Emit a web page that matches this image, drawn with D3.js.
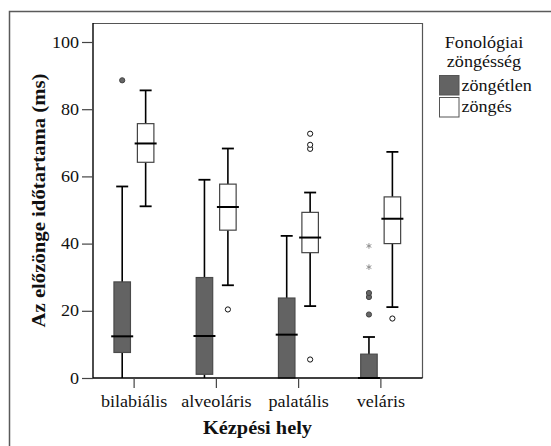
<!DOCTYPE html>
<html>
<head>
<meta charset="utf-8">
<script src="https://cdn.jsdelivr.net/npm/d3@7"></script>
<style>
  html, body { margin: 0; padding: 0; background: #fff; }
  svg { display: block; }
</style>
</head>
<body>
<svg id="chart" width="551" height="446"></svg>
<script>
// ---- data ----
const categories = ["bilabiális", "alveoláris", "palatális", "veláris"];
const series = ["zöngétlen", "zöngés"];
const yTicks = [0, 20, 40, 60, 80, 100];

// box statistics per category, for each series
const zongetlenLow    = [0, 0, 0, 0];
const zongetlenQ1     = [7.6, 1.1, 0, 0];
const zongetlenMedian = [12.4, 12.5, 12.9, 0];
const zongetlenQ3     = [28.6, 29.9, 23.8, 7.1];
const zongetlenHigh   = [57.0, 59.0, 42.3, 12.2];

const zongesLow    = [51.1, 27.6, 21.4, 21.1];
const zongesQ1     = [64.2, 44.0, 37.3, 40.0];
const zongesMedian = [69.8, 50.9, 41.8, 47.4];
const zongesQ3     = [75.7, 57.7, 49.3, 53.9];
const zongesHigh   = [85.6, 68.3, 55.2, 67.3];

// outliers: [category, series, value, kind]
const outliers = [
  ["bilabiális", "zöngétlen", 88.6, "circle"],
  ["alveoláris", "zöngés", 20.4, "circle"],
  ["palatális", "zöngés", 5.5, "circle"],
  ["palatális", "zöngés", 68.2, "circle"],
  ["palatális", "zöngés", 69.4, "circle"],
  ["palatális", "zöngés", 72.7, "circle"],
  ["veláris", "zöngétlen", 18.9, "circle"],
  ["veláris", "zöngétlen", 24.1, "circle"],
  ["veláris", "zöngétlen", 25.3, "circle"],
  ["veláris", "zöngétlen", 33.0, "star"],
  ["veláris", "zöngétlen", 39.3, "star"],
  ["veláris", "zöngés", 17.7, "circle"]
];

const yTitle = "Az előzönge időtartama (ms)";
const xTitle = "Kézpési hely";
const legendTitle = ["Fonológiai", "zöngésség"];

// ---- build table ----
const stats = {
  "zöngétlen": {low: zongetlenLow, q1: zongetlenQ1, med: zongetlenMedian, q3: zongetlenQ3, high: zongetlenHigh},
  "zöngés": {low: zongesLow, q1: zongesQ1, med: zongesMedian, q3: zongesQ3, high: zongesHigh}
};
const boxes = [];
categories.forEach((c, i) => series.forEach(s => {
  const st = stats[s];
  boxes.push({cat: c, ser: s, low: st.low[i], q1: st.q1[i], med: st.med[i], q3: st.q3[i], high: st.high[i]});
}));

// ---- styles ----
const FONT = "'Liberation Serif', 'Times New Roman', serif";
const STRETCH = 1.13; // reference text is slightly wide
const fills = {"zöngétlen": "#636363", "zöngés": "#ffffff"};
const strokes = {"zöngétlen": "#4a4a4a", "zöngés": "#444"};

function widen(sel) {
  sel.each(function () {
    const w = this.getComputedTextLength();
    if (w > 0) d3.select(this).attr("textLength", w * STRETCH).attr("lengthAdjust", "spacingAndGlyphs");
  });
}

const svg = d3.select("#chart");

// outer frame
svg.append("rect").attr("x", 9.5).attr("y", 11.5).attr("width", 560).attr("height", 460)
  .attr("fill", "none").attr("stroke", "#5a5a5a").attr("stroke-width", 1.5);

const pLeft = 93, pRight = 422, pTop = 23, pBottom = 378;
const x = d3.scaleBand().domain(categories).range([pLeft, pRight]);
const bw = x.bandwidth();
const xs = d3.scalePoint().domain(series).range([bw * 0.355, bw * 0.64]);
const y = d3.scaleLinear().domain([0, 100]).range([pBottom, 42]);

const boxW = 16.5, capW = 12, medW = 22;

// plot frame (top & right)
svg.append("path")
  .attr("d", `M${pLeft},${pTop + 0.5}H${pRight + 0.5}V${pBottom}`)
  .attr("fill", "none").attr("stroke", "#555").attr("stroke-width", 1.2);

// boxes
const g = svg.append("g");
boxes.forEach(b => {
  const cx = x(b.cat) + xs(b.ser);
  g.append("line").attr("x1", cx).attr("x2", cx).attr("y1", y(b.q3)).attr("y2", y(b.high))
    .attr("stroke", "#000").attr("stroke-width", 1.6);
  g.append("line").attr("x1", cx).attr("x2", cx).attr("y1", y(b.q1)).attr("y2", y(b.low))
    .attr("stroke", "#000").attr("stroke-width", 1.6);
  [b.high, b.low].forEach(v => {
    if (v > 0.01) {
      g.append("line").attr("x1", cx - capW / 2).attr("x2", cx + capW / 2).attr("y1", y(v)).attr("y2", y(v))
        .attr("stroke", "#000").attr("stroke-width", 1.8);
    }
  });
  g.append("rect").attr("x", cx - boxW / 2).attr("width", boxW)
    .attr("y", y(b.q3)).attr("height", y(b.q1) - y(b.q3))
    .attr("fill", fills[b.ser]).attr("stroke", strokes[b.ser]).attr("stroke-width", 1.2);
  g.append("line").attr("x1", cx - medW / 2).attr("x2", cx + medW / 2).attr("y1", y(b.med)).attr("y2", y(b.med))
    .attr("stroke", "#000").attr("stroke-width", 2);
});

// outliers
outliers.forEach(o => {
  const cx = x(o[0]) + xs(o[1]);
  const cy = y(o[2]);
  if (o[3] === "circle") {
    g.append("circle").attr("cx", cx).attr("cy", cy).attr("r", 2.6)
      .attr("fill", o[1] === "zöngétlen" ? "#666" : "#fff")
      .attr("stroke", o[1] === "zöngétlen" ? "#444" : "#111").attr("stroke-width", 1);
  } else {
    g.append("path").attr("transform", `translate(${cx},${cy})`)
      .attr("d", d3.symbol(d3.symbolAsterisk, 22)())
      .attr("fill", "none").attr("stroke", "#888").attr("stroke-width", 0.9);
  }
});

// y axis
const yAxis = svg.append("g").attr("transform", `translate(${pLeft},0)`)
  .call(d3.axisLeft(y).tickValues(yTicks).tickSize(11).tickPadding(3).tickFormat(d3.format("d")));
yAxis.attr("font-family", null);
yAxis.select(".domain").attr("d", `M0,${pTop}V${pBottom}`).attr("stroke", "#000").attr("stroke-width", 1.4);
yAxis.selectAll(".tick line").attr("stroke", "#444").attr("stroke-width", 1.2);
yAxis.selectAll(".tick text").style("font-family", FONT).style("font-size", "16px").attr("fill", "#111").call(widen);

// x axis
const xAxis = svg.append("g").attr("transform", `translate(0,${pBottom})`)
  .call(d3.axisBottom(x).tickSize(10).tickPadding(8));
xAxis.attr("font-family", null);
xAxis.select(".domain").attr("d", `M${pLeft},0H${pRight + 0.5}`).attr("stroke", "#000").attr("stroke-width", 1.4);
xAxis.selectAll(".tick line").attr("stroke", "#444").attr("stroke-width", 1.2);
xAxis.selectAll(".tick text").style("font-family", FONT).style("font-size", "16px").attr("fill", "#111").call(widen);

// axis titles
svg.append("text").attr("x", (pLeft + pRight) / 2).attr("y", 434)
  .attr("text-anchor", "middle").style("font-family", FONT).style("font-weight", "bold").style("font-size", "18px").attr("fill", "#111")
  .text(xTitle).call(widen);
svg.append("text").attr("transform", `translate(45,${(pTop + pBottom) / 2}) rotate(-90)`)
  .attr("text-anchor", "middle").style("font-family", FONT).style("font-weight", "bold").style("font-size", "18px").attr("fill", "#111")
  .attr("textLength", 254).attr("lengthAdjust", "spacingAndGlyphs")
  .text(yTitle);

// legend
const lg = svg.append("g");
legendTitle.forEach((t, i) => {
  lg.append("text").attr("x", 484).attr("y", 48 + i * 18.5).attr("text-anchor", "middle")
    .style("font-family", FONT).style("font-size", "16px").attr("fill", "#111").text(t).call(widen);
});
series.forEach((s, i) => {
  lg.append("rect").attr("x", 439.5).attr("y", 75.5 + i * 22).attr("width", 19.5).attr("height", 19.5)
    .attr("fill", fills[s]).attr("stroke", "#555").attr("stroke-width", 1);
  lg.append("text").attr("x", 461.5).attr("y", 91 + i * 21)
    .style("font-family", FONT).style("font-size", "16px").attr("fill", "#111").text(s).call(widen);
});
</script>
</body>
</html>
